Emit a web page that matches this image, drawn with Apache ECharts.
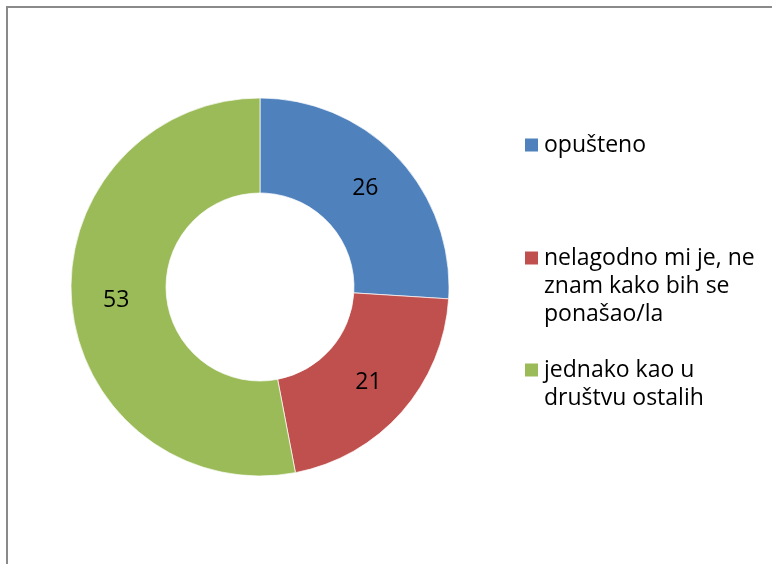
<!DOCTYPE html>
<html>
<head>
<meta charset="utf-8">
<script src="https://cdn.jsdelivr.net/npm/echarts@6/dist/echarts.min.js"></script>
<style>
  html, body { margin: 0; padding: 0; background: #fff; }
  #chart { width: 772px; height: 564px; }
</style>
</head>
<body>
<div id="chart"></div>
<script>
// Answer categories and their shares (percent)
const categories = [
  'opušteno',
  'nelagodno mi je, ne\nznam kako bih se\nponašao/la',
  'jednako kao u\ndruštvu ostalih'
];
const values = [26, 21, 53];
const colors = ['#4F81BD', '#C0504D', '#9BBB59'];

const FONT = '"Open Sans", sans-serif';
const LINE_H = 28;

// One legend block per category; leading blank lines keep the icon
// level with the first text line (legend text is centred on the icon)
const legendTops = [131, 188, 328];
const legends = categories.map((name, i) => {
  const lines = name.split('\n').length;
  return {
    orient: 'vertical',
    left: 523,
    top: legendTops[i],
    padding: 0,
    itemWidth: 15,
    itemHeight: 15,
    icon: 'rect',
    selectedMode: false,
    data: [name],
    formatter: n => '\n'.repeat(lines - 1) + n,
    textStyle: {
      fontFamily: FONT,
      fontSize: 23,
      color: '#000',
      lineHeight: LINE_H
    }
  };
});

const chart = echarts.init(document.getElementById('chart'), null, { renderer: 'canvas' });
chart.setOption({
  animation: false,
  backgroundColor: '#fff',
  color: colors,
  legend: legends,
  graphic: [{
    type: 'rect',
    shape: { x: 7, y: 7, width: 800, height: 600 },
    style: { fill: 'none', stroke: '#8a8a8a', lineWidth: 2 },
    silent: true
  }],
  series: [{
    type: 'pie',
    center: [260, 287],
    radius: [94, 189],
    startAngle: 90,
    clockwise: true,
    avoidLabelOverlap: false,
    itemStyle: { borderColor: '#fff', borderWidth: 0.7 },
    label: {
      show: true,
      position: 'inside',
      formatter: '{c}',
      fontFamily: FONT,
      fontSize: 23,
      color: '#000'
    },
    labelLine: { show: false },
    emphasis: { disabled: true },
    data: categories.map((name, i) => ({ name, value: values[i] }))
  }]
});
</script>
</body>
</html>
